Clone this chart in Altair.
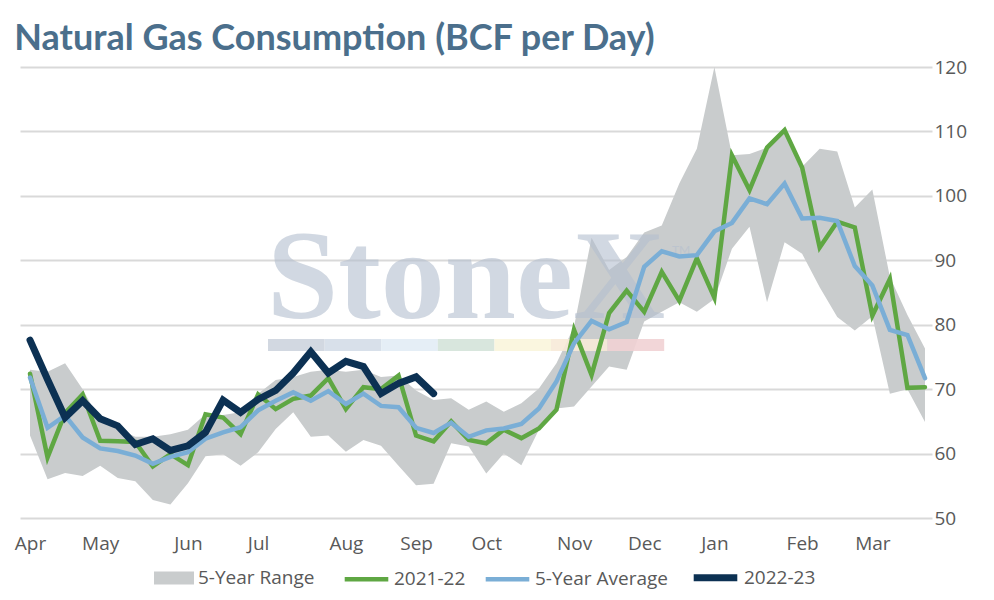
import altair as alt
import pandas as pd

# ---- data (weekly, Apr .. Mar) ----
weeks = list(range(52))
month_labels = ["Apr", "May", "Jun", "Jul", "Aug", "Sep", "Oct", "Nov", "Dec", "Jan", "Feb", "Mar"]
month_start_week = [0, 4, 9, 13, 18, 22, 26, 31, 35, 39, 44, 48]
y_ticks = [50, 60, 70, 80, 90, 100, 110, 120]

range_low = [62.8, 56.0, 57.0, 56.5, 58.1, 56.2, 55.7, 52.8, 52.1, 55.4, 59.6, 59.9,
             58.1, 60.2, 63.8, 66.4, 62.6, 62.8, 60.3, 62.1, 61.2, 58.1, 55.1, 55.3,
             61.6, 61.1, 56.9, 60.0, 58.2, 63.7, 67.0, 67.3, 70.4, 73.5, 73.0, 80.5,
             82.0, 83.5, 82.0, 84.0, 91.8, 95.2, 83.5, 92.8, 91.0, 85.8, 81.2, 79.1,
             81.3, 69.3, 70.0, 64.9]
range_high = [73.0, 72.7, 74.0, 70.0, 65.0, 63.8, 62.6, 62.6, 63.0, 63.7, 66.1, 66.0,
              66.4, 69.3, 71.4, 71.9, 72.7, 73.0, 72.7, 73.0, 71.9, 72.1, 69.8, 68.3,
              68.6, 66.8, 68.1, 66.5, 67.8, 70.1, 74.0, 79.7, 93.5, 88.5, 90.5, 94.3,
              95.4, 101.9, 107.3, 120.0, 106.3, 106.5, 107.5, 110.2, 104.5, 107.3, 106.9, 98.2,
              101.0, 87.4, 81.5, 76.3]
y2021_22 = [72.4, 59.4, 66.3, 69.2, 62.0, 61.9, 61.8, 58.0, 59.9, 58.2, 66.1, 65.6,
            63.0, 69.2, 66.9, 68.5, 69.0, 71.7, 66.9, 70.3, 70.0, 72.1, 62.8, 61.9,
            65.0, 62.1, 61.6, 63.7, 62.4, 63.9, 66.8, 79.2, 72.2, 81.8, 85.3, 82.0,
            88.2, 83.7, 90.3, 84.2, 106.3, 100.9, 107.5, 110.2, 104.4, 92.0, 96.0, 95.1,
            81.4, 87.1, 70.2, 70.3]
avg5 = [71.8, 64.0, 65.9, 62.5, 60.8, 60.4, 59.7, 58.4, 59.5, 60.2, 62.3, 63.3,
        64.1, 66.7, 68.2, 69.5, 68.2, 69.7, 67.7, 69.3, 67.4, 67.2, 64.0, 63.2,
        64.8, 62.6, 63.6, 63.9, 64.6, 67.0, 71.2, 77.1, 80.6, 79.3, 80.4, 89.0,
        91.4, 90.6, 90.8, 94.5, 95.8, 99.6, 98.7, 101.9, 96.5, 96.6, 96.1, 89.1,
        86.1, 79.2, 78.4, 71.7]
y2022_23 = [77.6, 71.5, 65.6, 68.2, 65.4, 64.3, 61.4, 62.3, 60.5, 61.2, 63.3, 68.3,
            66.4, 68.4, 69.8, 72.5, 75.8, 72.5, 74.3, 73.5, 69.3, 70.9, 71.9, 69.3]

range_name = "5-Year Range"
range_color = "#c9cccd"
line_names = ["2021-22", "5-Year Average", "2022-23"]
line_colors = ["#5fa743", "#7aaed6", "#0c3153"]
line_widths = [4.5, 4.5, 7]

# ---- tables ----
band_df = pd.DataFrame({"week": weeks, "low": range_low, "high": range_high, "series": range_name})


def line_df(name, vals):
    return pd.DataFrame({"week": weeks[:len(vals)], "value": vals, "series": name})


label_font = "Open Sans"
label_color = "#595959"

x_enc = alt.X(
    "week:Q",
    scale=alt.Scale(domain=[-0.57, 51.4], nice=False, zero=False),
    axis=alt.Axis(
        values=month_start_week,
        labelExpr="%s[indexof(%s, datum.value)]" % (
            "[" + ",".join("'%s'" % m for m in month_labels) + "]",
            "[" + ",".join(str(w) for w in month_start_week) + "]"),
        grid=False, ticks=False, domain=False, title=None,
        labelFont=label_font, labelFontSize=19, labelColor=label_color,
        labelPadding=16, labelFlush=False,
    ),
)

y_axis = alt.Axis(
    orient="right", values=y_ticks, title=None, ticks=False, domain=False,
    grid=True, gridColor="#d9d9d9", gridWidth=2,
    labelFont=label_font, labelFontSize=19, labelColor=label_color, labelPadding=2,
)
y_scale = alt.Scale(domain=[50, 120], nice=False, zero=False)

legend_common = dict(
    title=None, orient="none", direction="horizontal",
    labelFont=label_font, labelFontSize=19, labelColor=label_color,
)

band = alt.Chart(band_df).mark_area(opacity=1).encode(
    x=x_enc,
    y=alt.Y("low:Q", scale=y_scale, axis=y_axis),
    y2="high:Q",
    fill=alt.Fill(
        "series:N",
        scale=alt.Scale(domain=[range_name], range=[range_color]),
        legend=alt.Legend(
            legendX=134, legendY=491, symbolType="M-1,-0.33H1V0.33H-1Z", symbolSize=1600,
            symbolStrokeWidth=0, symbolOpacity=1, labelOffset=4, **legend_common,
        ),
    ),
)

# watermark
one = alt.Data(values=[{"k": 1}])
wm_text = alt.Chart(one).mark_text(
    text="StoneX", font="Liberation Serif", fontSize=128, fontWeight="bold", align="left",
    baseline="alphabetic", color="#b4bfcf", opacity=0.6,
).encode(x=alt.value(247), y=alt.value(251))
wm_tm = alt.Chart(one).mark_text(
    text="TM", font="Lato", fontSize=12, align="left", baseline="alphabetic",
    color="#b4bfcf", opacity=0.6,
).encode(x=alt.value(652), y=alt.value(187))

bar_colors = ["#cdd4de", "#d4dde8", "#e2ecf5", "#d4e3d9", "#faf5dc", "#f7ead8", "#f1d1d4"]
wm_bar = []
for k, c in enumerate(bar_colors):
    wm_bar.append(
        alt.Chart(one).mark_rect(color=c, opacity=0.9).encode(
            x=alt.value(248 + 56.6 * k), x2=alt.value(248 + 56.6 * (k + 1)),
            y=alt.value(272), y2=alt.value(284),
        )
    )

line_legend = alt.Legend(
    legendX=322, legendY=485, symbolType="stroke", symbolSize=1900, symbolOpacity=1,
    labelOffset=3, columnPadding=10, **legend_common,
)
color_scale = alt.Scale(domain=line_names, range=line_colors)
width_scale = alt.Scale(type="ordinal", domain=line_names, range=line_widths)


def line_layer(name, vals):
    return alt.Chart(line_df(name, vals)).mark_line(strokeCap="round", strokeJoin="miter").encode(
        x=x_enc,
        y=alt.Y("value:Q", scale=y_scale, axis=y_axis),
        color=alt.Color("series:N", scale=color_scale, legend=line_legend),
        strokeWidth=alt.StrokeWidth("series:N", scale=width_scale, legend=line_legend),
    )


chart = alt.layer(
    band, wm_text, wm_tm, *wm_bar,
    line_layer("2021-22", y2021_22),
    line_layer("5-Year Average", avg5),
    line_layer("2022-23", y2022_23),
).properties(
    width=912,
    height=451,
    autosize=alt.AutoSizeParams(type="none"),
    padding={"left": 12, "top": 59, "right": 54, "bottom": 74},
    title=alt.TitleParams(
        "Natural Gas Consumption (BCF per Day)", anchor="start", font="Lato",
        fontSize=36, fontWeight="bold", color="#4b6f8c", offset=0,
    ),
).configure_view(stroke=None)

chart.save("out.html", embed_options={"renderer": "svg", "actions": False})
